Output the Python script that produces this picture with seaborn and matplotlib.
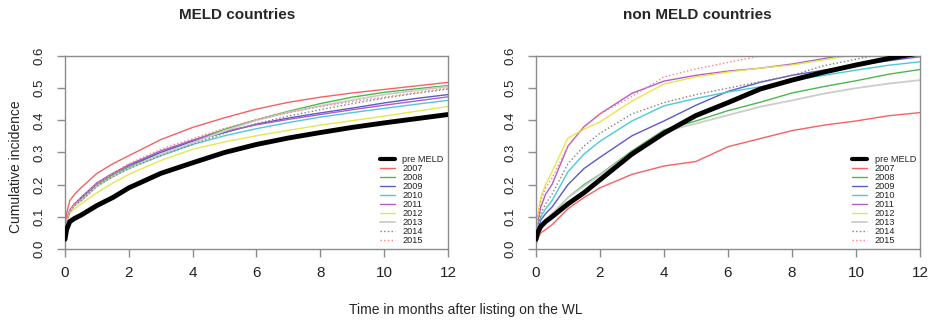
import matplotlib
matplotlib.use("Agg")
import matplotlib.pyplot as plt
from matplotlib.lines import Line2D
import seaborn as sns
import pandas as pd

# time grid (months after listing)
months = [0, 0.05, 0.15, 0.3, 0.5, 1, 1.5, 2, 3, 4, 5, 6, 7, 8, 9, 10, 11, 12]

groups = ["pre MELD", "2007", "2008", "2009", "2010", "2011", "2012", "2013", "2014", "2015"]

# cumulative incidence, MELD countries
meld_pre = [0.03, 0.06, 0.085, 0.095, 0.105, 0.135, 0.16, 0.19, 0.235, 0.268, 0.30, 0.325, 0.345, 0.362, 0.378, 0.392, 0.405, 0.418]
meld_2007 = [0.04, 0.11, 0.15, 0.17, 0.19, 0.235, 0.265, 0.29, 0.34, 0.378, 0.408, 0.435, 0.456, 0.472, 0.485, 0.496, 0.507, 0.518]
meld_2008 = [0.04, 0.09, 0.12, 0.14, 0.155, 0.20, 0.23, 0.255, 0.30, 0.338, 0.372, 0.402, 0.428, 0.452, 0.472, 0.487, 0.498, 0.508]
meld_2009 = [0.04, 0.09, 0.12, 0.14, 0.16, 0.205, 0.235, 0.26, 0.30, 0.335, 0.362, 0.388, 0.407, 0.423, 0.438, 0.454, 0.468, 0.48]
meld_2010 = [0.04, 0.085, 0.115, 0.135, 0.15, 0.195, 0.225, 0.25, 0.29, 0.325, 0.352, 0.374, 0.393, 0.41, 0.424, 0.437, 0.45, 0.462]
meld_2011 = [0.04, 0.09, 0.12, 0.14, 0.155, 0.205, 0.235, 0.262, 0.305, 0.338, 0.366, 0.386, 0.403, 0.418, 0.433, 0.447, 0.46, 0.473]
meld_2012 = [0.04, 0.08, 0.11, 0.125, 0.14, 0.175, 0.205, 0.232, 0.275, 0.31, 0.333, 0.352, 0.369, 0.385, 0.399, 0.413, 0.428, 0.443]
meld_2013 = [0.04, 0.085, 0.115, 0.135, 0.15, 0.195, 0.225, 0.25, 0.295, 0.33, 0.367, 0.40, 0.425, 0.445, 0.463, 0.48, 0.493, 0.505]
meld_2014 = [0.04, 0.085, 0.115, 0.135, 0.15, 0.195, 0.225, 0.25, 0.29, 0.325, 0.36, 0.39, 0.413, 0.433, 0.452, 0.469, 0.484, 0.497]
meld_2015 = [0.04, 0.09, 0.12, 0.14, 0.158, 0.205, 0.235, 0.265, 0.31, 0.343, 0.375, 0.402, 0.424, 0.443, 0.458, 0.472, 0.486, 0.50]

# cumulative incidence, non MELD countries
non_pre = [0.03, 0.05, 0.07, 0.085, 0.10, 0.14, 0.175, 0.215, 0.295, 0.36, 0.415, 0.455, 0.497, 0.525, 0.55, 0.572, 0.592, 0.61]
non_2007 = [0.01, 0.03, 0.05, 0.06, 0.075, 0.125, 0.16, 0.19, 0.232, 0.258, 0.272, 0.318, 0.343, 0.368, 0.385, 0.398, 0.414, 0.424]
non_2008 = [0.02, 0.05, 0.075, 0.09, 0.105, 0.16, 0.20, 0.232, 0.305, 0.37, 0.398, 0.43, 0.456, 0.485, 0.505, 0.523, 0.543, 0.558]
non_2009 = [0.02, 0.06, 0.09, 0.11, 0.13, 0.20, 0.25, 0.285, 0.352, 0.398, 0.447, 0.49, 0.518, 0.54, 0.556, 0.572, 0.585, 0.598]
non_2010 = [0.02, 0.07, 0.10, 0.125, 0.15, 0.24, 0.295, 0.335, 0.398, 0.445, 0.468, 0.488, 0.504, 0.524, 0.54, 0.556, 0.571, 0.582]
non_2011 = [0.02, 0.08, 0.13, 0.17, 0.20, 0.32, 0.38, 0.42, 0.484, 0.522, 0.54, 0.553, 0.562, 0.575, 0.592, 0.61, 0.63, 0.65]
non_2012 = [0.02, 0.10, 0.16, 0.20, 0.24, 0.345, 0.372, 0.395, 0.46, 0.513, 0.535, 0.55, 0.562, 0.572, 0.588, 0.605, 0.62, 0.64]
non_2013 = [0.02, 0.05, 0.075, 0.09, 0.11, 0.16, 0.195, 0.23, 0.30, 0.365, 0.39, 0.416, 0.442, 0.462, 0.483, 0.50, 0.514, 0.525]
non_2014 = [0.02, 0.07, 0.11, 0.14, 0.17, 0.265, 0.32, 0.36, 0.42, 0.455, 0.48, 0.50, 0.52, 0.54, 0.57, 0.59, 0.61, 0.63]
non_2015 = [0.02, 0.09, 0.15, 0.19, 0.22, 0.32, 0.38, 0.42, 0.474, 0.535, 0.56, 0.58, 0.60, 0.62, 0.64, 0.66, 0.68, 0.70]

meld = [meld_pre, meld_2007, meld_2008, meld_2009, meld_2010, meld_2011, meld_2012, meld_2013, meld_2014, meld_2015]
non_meld = [non_pre, non_2007, non_2008, non_2009, non_2010, non_2011, non_2012, non_2013, non_2014, non_2015]

colors = ["black", "#f86060", "#4cb84c", "#5a5ac8", "#4cc9d9", "#b35cc9", "#e6e64d", "#cccccc", "#7f7f7f", "#ff8080"]
styles = ["-", "-", "-", "-", "-", "-", "-", "-", ":", ":"]
widths = [3.5, 1, 1, 1, 1, 1, 1, 1.3, 1, 1]

sns.set_theme(style="white")
plt.rcParams["font.family"] = ["Liberation Sans", "DejaVu Sans"]

fig = plt.figure(figsize=(9.31, 3.2), dpi=100)
ax1 = fig.add_axes([0.0698, 0.222, 0.4114, 0.603])
ax2 = fig.add_axes([0.5757, 0.222, 0.4125, 0.603])


def draw_panel(ax, series, title, title_x):
    for name, vals, c, ls, lw in zip(groups, series, colors, styles, widths):
        df = pd.DataFrame({"t": months, "ci": vals})
        sns.lineplot(data=df, x="t", y="ci", ax=ax, color=c, linestyle=ls,
                     linewidth=lw, zorder=3 if name == "pre MELD" else 2)
    ax.set_xlim(0, 12)
    ax.set_ylim(0, 0.6)
    ax.set_xticks([0, 2, 4, 6, 8, 10, 12])
    ax.set_yticks([0, 0.1, 0.2, 0.3, 0.4, 0.5, 0.6])
    ax.set_yticklabels(["0.0", "0.1", "0.2", "0.3", "0.4", "0.5", "0.6"])
    ax.set_xlabel("")
    ax.set_ylabel("")
    for s in ax.spines.values():
        s.set_color("#8c8c8c")
        s.set_linewidth(1)
    ax.tick_params(axis="both", direction="out", length=6, width=1, color="#8c8c8c",
                   left=True, bottom=True)
    ax.tick_params(axis="x", labelsize=11, pad=6, labelcolor="#222222")
    ax.tick_params(axis="y", labelsize=9.5, pad=8, labelrotation=90, labelcolor="#222222")
    for lab in ax.get_yticklabels():
        lab.set_va("center")
    handles = [Line2D([0], [0], color=c, linestyle=ls, linewidth=min(lw, 3))
               for c, ls, lw in zip(colors, styles, widths)]
    ax.legend(handles, groups, loc="lower right", frameon=False, fontsize=6.6,
              handlelength=1.7, handletextpad=0.8, labelspacing=0.0,
              borderaxespad=0.05, labelcolor="#222222")
    fig.text(title_x, 0.953, title, ha="center", va="center",
             fontsize=11, fontweight="bold")


draw_panel(ax1, meld, "MELD countries", 0.255)
draw_panel(ax2, non_meld, "non MELD countries", 0.749)

fig.text(0.017, 0.478, "Cumulative incidence", rotation=90, ha="center", va="center", fontsize=10)
fig.text(0.5, 0.03, "Time in months after listing on the WL", ha="center", va="center", fontsize=10)

fig.savefig("out.png", dpi=100)
